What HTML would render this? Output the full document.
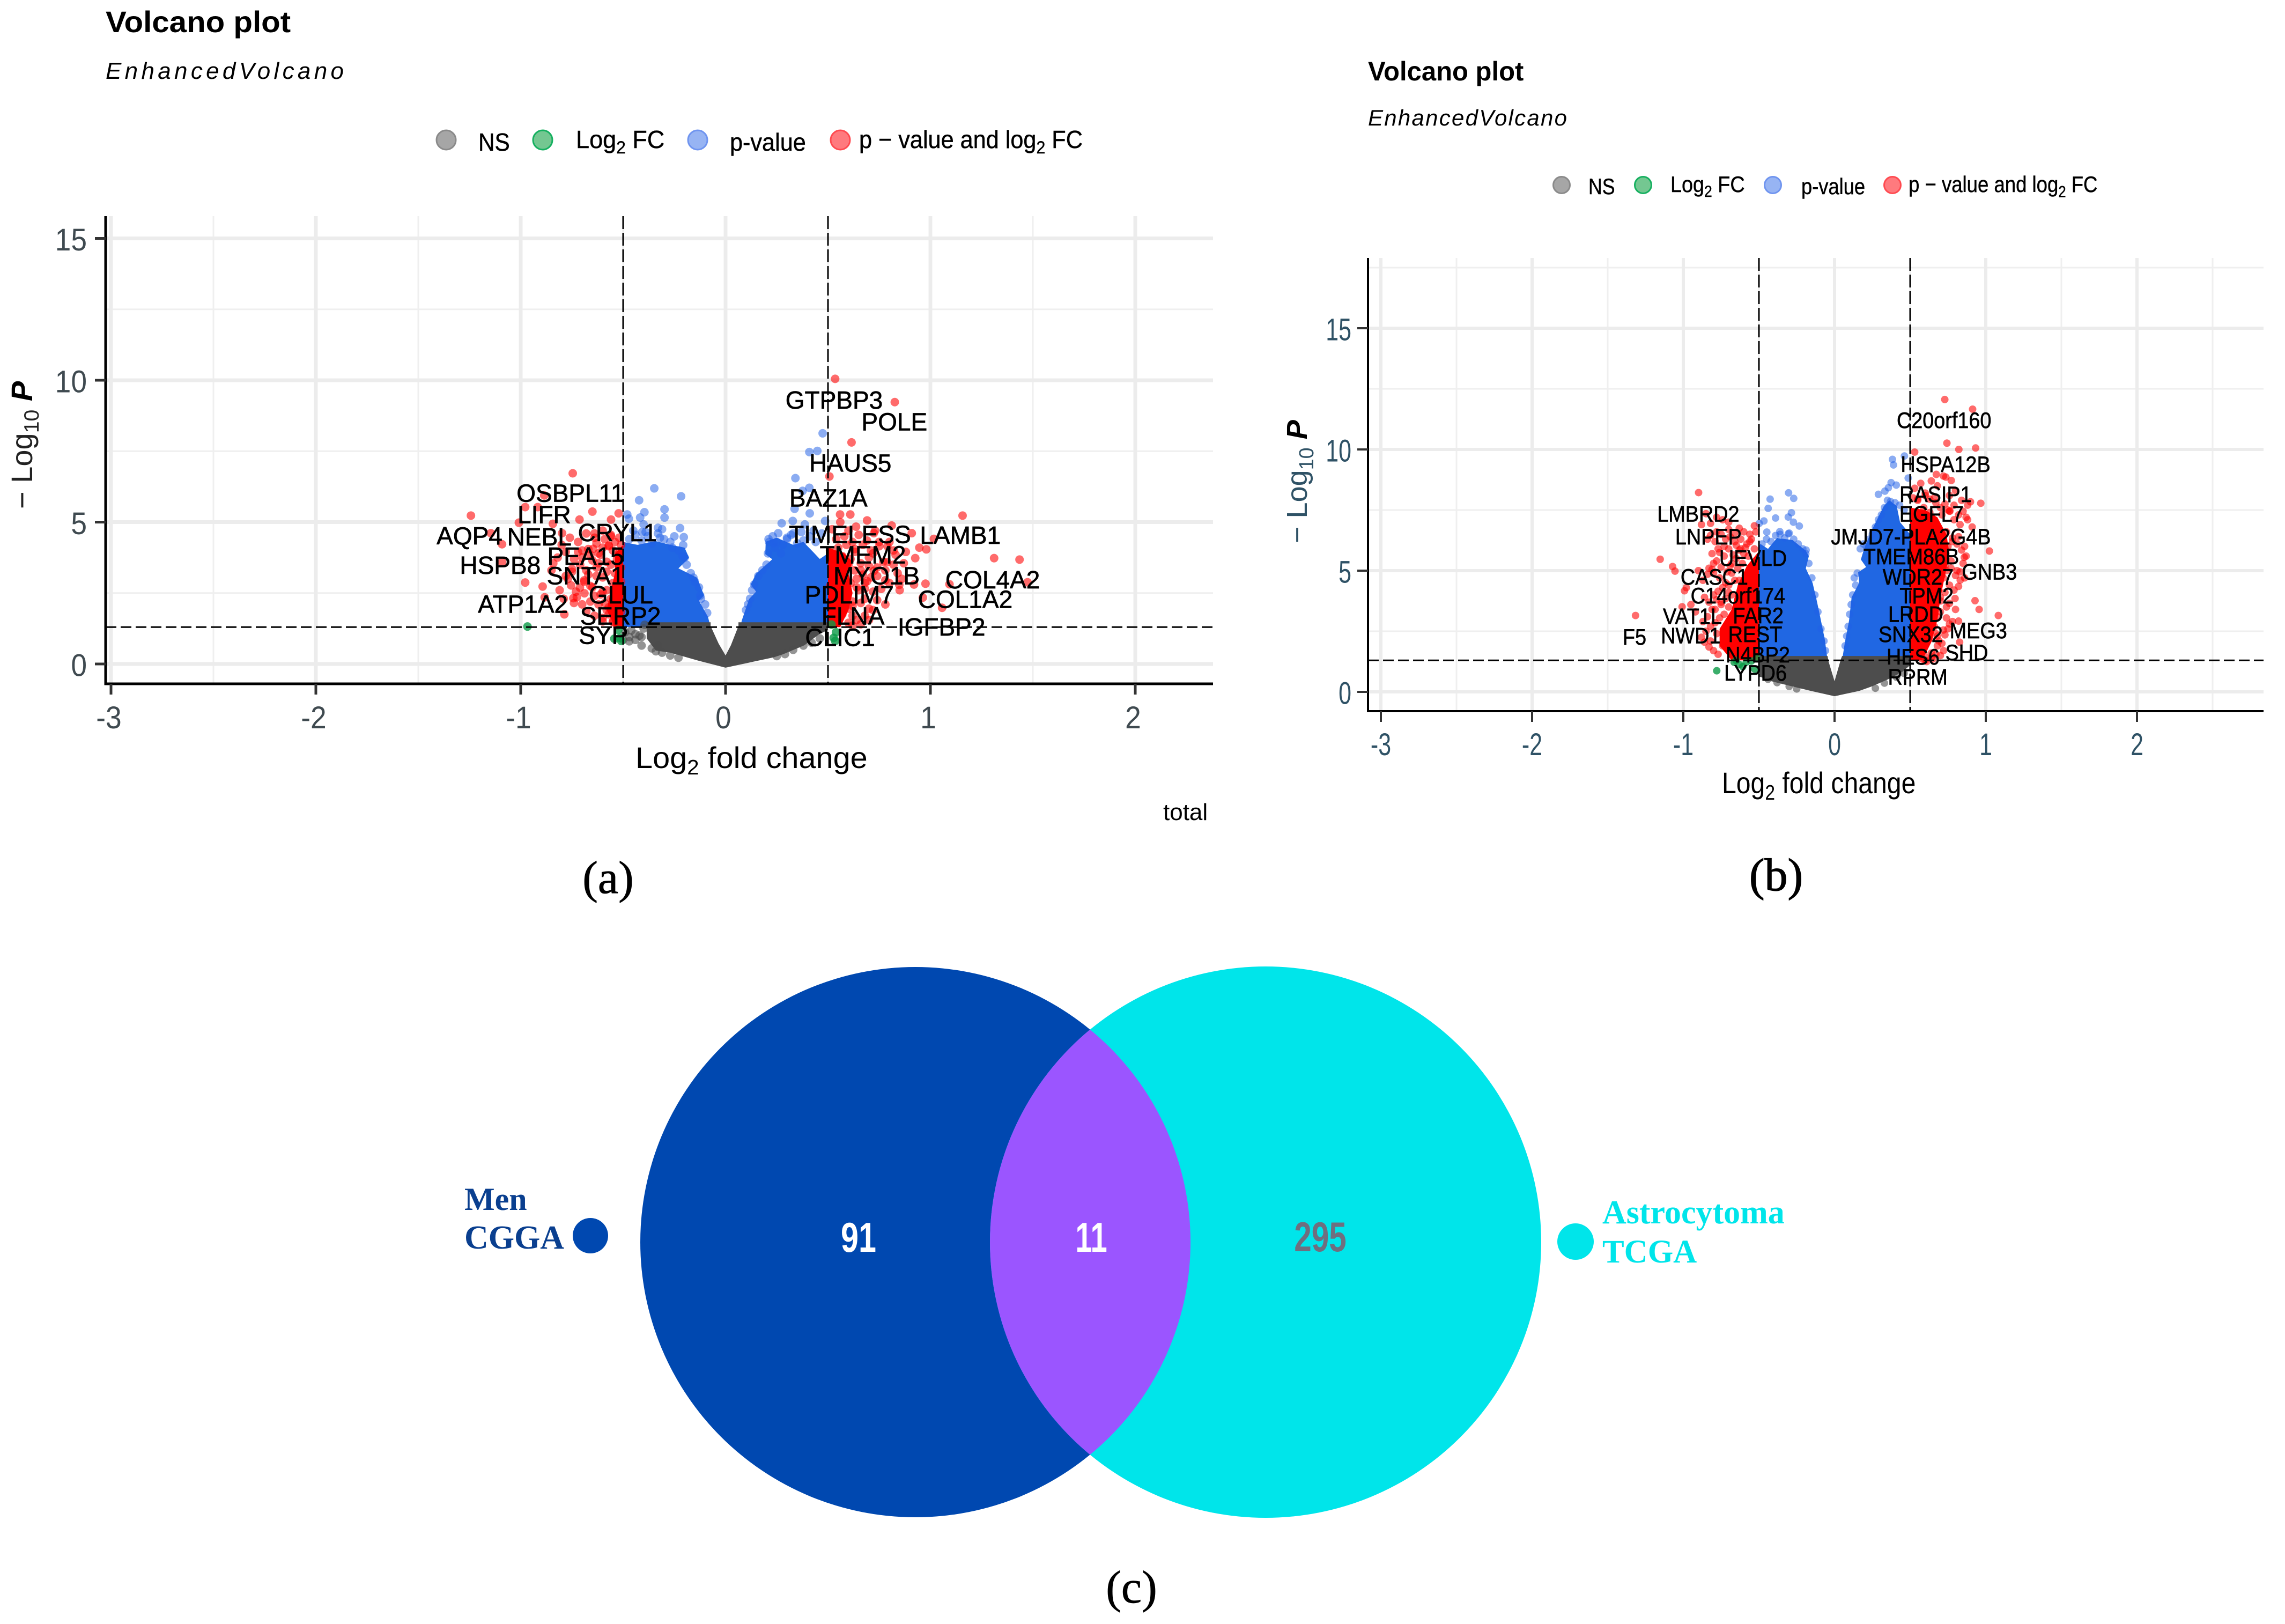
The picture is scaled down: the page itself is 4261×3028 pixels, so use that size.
<!DOCTYPE html>
<html lang="en"><head><meta charset="utf-8"><title>Volcano plots and Venn diagram</title>
<style>
html,body{margin:0;padding:0;background:#fff}
svg{display:block}
text{font-family:"Liberation Sans",sans-serif}
.serif{font-family:"Liberation Serif",serif}
</style></head>
<body>
<svg id="fig" xmlns="http://www.w3.org/2000/svg" width="4261" height="3028" viewBox="0 0 4261 3028">
<rect width="4261" height="3028" fill="#fff"/>
<g id="panel-a"></g>
<g id="panel-b"></g>
<text class="serif" x="1134" y="1665" font-size="86" text-anchor="middle" fill="#000" stroke="#000" stroke-width=".8">(a)</text>
<text class="serif" x="3312" y="1660" font-size="86" text-anchor="middle" fill="#000" stroke="#000" stroke-width="1.2">(b)</text>
<g id="venn">
<clipPath id="left-clip"><circle cx="1707" cy="2316" r="513"/></clipPath>
<circle cx="1707" cy="2316" r="513" fill="#0048b0"/>
<circle cx="2360" cy="2316" r="514" fill="#00e5ea"/>
<circle cx="2360" cy="2316" r="514" fill="#9b55ff" clip-path="url(#left-clip)"/>
<text transform="translate(1601,2334) scale(.76,1)" font-size="78" font-weight="bold" text-anchor="middle" fill="#fff">91</text>
<text transform="translate(2035,2334) scale(.72,1)" font-size="78" font-weight="bold" text-anchor="middle" fill="#fff">11</text>
<text transform="translate(2462,2333) scale(.75,1)" font-size="78" font-weight="bold" text-anchor="middle" fill="#6f6f7f">295</text>
<text class="serif" x="866" y="2256" font-size="60" font-weight="bold" fill="#0a3f8f">Men</text>
<text class="serif" x="866" y="2328" font-size="62" font-weight="bold" fill="#0a3f8f">CGGA</text>
<circle cx="1101" cy="2304" r="33" fill="#0048b0"/>
<circle cx="2938" cy="2315" r="34" fill="#00e5ea"/>
<text class="serif" x="2988" y="2281" font-size="62" font-weight="bold" fill="#00e5ea">Astrocytoma</text>
<text class="serif" x="2988" y="2354" font-size="61" font-weight="bold" fill="#00e5ea">TCGA</text>
</g>
<text class="serif" x="2110" y="2988" font-size="86" text-anchor="middle" fill="#000" stroke="#000" stroke-width=".8">(c)</text>
</svg>
<script>
/* ---------- panel (a) data, log2 fold change / -log10 p ---------- */
const aNsAreaX=[-0.385,-0.34,-0.27,-0.13,0,0.235,0.28,0.385,0.455,0.5,0.5,0.063,0.063,0.026,0,-0.034,-0.073,-0.073,-0.385];
const aNsAreaY=[0.9,0.47,0.4,0.11,-0.13,0.235,0.34,0.66,1.04,1.2,1.47,1.47,1.34,0.66,0.3,0.72,1.34,1.47,1.47];
const aNsX=[-0.47,-0.44,-0.41,-0.42,-0.36,-0.34,-0.33,-0.31,-0.27,-0.23,0.25,0.29,0.33,0.38,0.42,0.46,-0.49,-0.46,-0.44,-0.41,-0.5,-0.47,-0.4,-0.395];
const aNsY=[0.95,0.85,0.65,1.0,0.55,0.45,0.65,0.4,0.3,0.22,0.28,0.35,0.5,0.65,0.75,0.9,1.12,1.18,1.05,0.95,0.85,0.8,1.25,1.38];
const aBlueLeftAreaX=[-0.5,-0.073,-0.086,-0.13,-0.105,-0.139,-0.23,-0.178,-0.2,-0.27,-0.34,-0.43,-0.5];
const aBlueLeftAreaY=[1.3,1.3,1.66,2.23,2.42,3.04,3.37,3.74,4.1,4.2,4.33,4.2,4.3];
const aBlueRightAreaX=[0.5,0.073,0.079,0.115,0.149,0.123,0.149,0.228,0.194,0.196,0.25,0.33,0.38,0.43,0.46,0.5];
const aBlueRightAreaY=[1.3,1.3,1.53,2.29,2.55,2.8,3.18,3.69,3.87,4.31,4.45,4.2,4.3,3.93,3.7,3.9];
const aBlueX=[0.474,0.448,0.409,0.341,0.409,0.376,0.337,0.411,0.274,0.328,0.387,0.257,0.3,0.235,0.213,0.207,0.486,-0.348,-0.217,-0.422,-0.396,-0.298,-0.298,-0.48,-0.472,-0.417,-0.4,-0.222,-0.33,-0.407,-0.204,-0.32,-0.207,-0.2,-0.157,-0.124,0.21,0.23,0.25,0.28,0.3,0.32,0.35,0.38,0.41,0.44,0.47,0.24,0.27,0.33,0.37,0.43,0.2,0.18,0.16,0.14,0.13,0.12,0.11,0.1,-0.47,-0.44,-0.41,-0.38,-0.36,-0.33,-0.3,-0.27,-0.25,-0.23,-0.21,-0.19,-0.17,-0.15,-0.13,-0.12,-0.1,-0.09,-0.45,-0.39,-0.31,-0.26];
const aBlueY=[8.13,7.51,7.47,6.55,6.21,6.1,5.47,5.31,4.96,5.04,4.92,4.61,4.45,4.26,4.3,3.9,5.04,6.19,5.91,5.77,5.35,5.45,5.16,5.27,5.12,5.16,4.92,4.79,4.8,4.65,4.47,4.45,4.19,3.75,3.04,2.41,4.4,4.5,4.3,4.2,4.4,4.55,4.25,4.35,4.5,4.3,4.6,4.1,3.9,4.6,4.65,4.7,3.5,3.3,3.1,2.8,2.6,2.3,2.1,1.9,4.4,4.55,4.35,4.5,4.25,4.6,4.4,4.3,4.5,4.0,3.8,3.5,3.2,2.9,2.7,2.3,2.1,1.8,4.7,4.65,4.75,4.1];
const aRedLeftAreaX=[-0.5,-0.54,-0.58,-0.56,-0.54,-0.54,-0.5];
const aRedLeftAreaY=[1.3,1.3,1.9,2.6,3.2,3.9,4.2];
const aRedRightAreaX=[0.5,0.56,0.6,0.62,0.6,0.62,0.58,0.5];
const aRedRightAreaY=[1.3,1.3,1.9,2.5,3.2,3.6,3.9,4.1];
const aRedX=[0.535,0.826,0.615,0.507,-0.746,-0.885,-0.978,-0.917,-1.243,-1.009,-0.843,-0.65,-0.713,-0.522,-0.559,-0.798,-1.091,-1.146,-0.978,-0.893,-0.883,-0.787,-0.743,-0.726,-0.689,-0.754,-0.711,-0.841,-1.091,-0.646,-0.57,0.559,0.609,1.157,0.691,0.637,0.811,0.909,1.017,0.946,0.98,0.926,1.311,1.435,1.474,0.976,0.92,0.848,1.093,1.057,0.963,0.691,0.724,0.789,0.724,-0.52,-0.53,-0.55,-0.51,-0.54,-0.57,-0.6,-0.52,-0.56,-0.59,-0.51,-0.53,-0.62,-0.55,-0.58,-0.64,-0.52,-0.54,-0.6,-0.66,-0.51,-0.56,-0.63,-0.53,-0.58,-0.68,-0.52,-0.55,-0.61,-0.65,-0.7,-0.51,-0.54,-0.57,-0.6,-0.63,-0.67,-0.52,-0.56,-0.59,-0.72,-0.62,-0.53,-0.55,-0.58,-0.75,-0.69,-0.51,-0.64,-0.78,0.52,0.54,0.57,0.6,0.53,0.56,0.59,0.62,0.65,0.51,0.55,0.58,0.61,0.64,0.68,0.52,0.56,0.6,0.63,0.67,0.71,0.53,0.57,0.61,0.66,0.7,0.74,0.51,0.55,0.59,0.63,0.72,0.77,0.54,0.58,0.62,0.69,0.75,0.52,0.6,0.65,0.8,0.56,0.73,0.84,0.78,0.68,0.82,0.87,0.62,-0.56,-0.6,-0.64,-0.68,-0.72,-0.76,-0.8,-0.62,-0.66,-0.7,-0.74,-0.78,-0.82,-0.58,-0.63,-0.67,-0.71,-0.75,-0.6,-0.65,-0.69,-0.73,-0.77,-0.81,-0.85,-0.57,-0.61,-0.66,-0.7,-0.74,-0.79,-0.6,-0.64,-0.68,0.63,0.67,0.71,0.75,0.79,0.83,0.88,0.66,0.7,0.74,0.78,0.82,0.86,0.64,0.68,0.72,0.76,0.8,0.85,0.62,0.66,0.7,0.74,0.78,0.6,0.64,0.68,0.72,0.62,0.66,0.7];
const aRedY=[10.05,9.23,7.81,6.61,6.72,5.94,5.53,5.53,5.23,4.98,4.94,5.37,5.09,5.31,5.09,4.61,4.22,4.61,2.87,2.73,2.35,1.75,2.32,2.35,2.49,2.77,2.69,3.55,3.59,4.06,4.18,5.27,5.27,5.23,5.06,4.84,4.88,4.61,4.41,4.1,4.04,3.73,3.73,3.68,2.88,2.83,2.8,2.79,2.81,1.98,2.34,2.92,3.28,3.59,4.61,1.42,1.6,1.5,1.85,1.95,1.75,1.62,2.2,2.3,2.15,2.5,2.7,2.1,2.85,2.6,2.4,3.0,3.2,3.05,2.75,3.4,3.5,3.1,3.7,3.6,3.3,3.9,4.0,3.85,3.65,3.75,4.2,4.3,4.15,4.1,4.25,4.05,4.45,4.5,4.4,3.95,3.55,1.35,1.48,1.9,3.35,2.95,2.9,4.6,3.1,1.4,1.6,1.75,1.95,2.1,2.25,2.4,2.2,2.6,2.75,2.9,3.05,2.85,3.0,2.65,3.2,3.35,3.5,3.3,3.15,3.05,3.65,3.8,3.7,3.55,3.75,3.4,4.0,4.1,4.2,4.05,3.9,3.6,4.4,4.5,4.3,4.35,4.15,4.75,4.7,4.55,4.3,5.0,4.7,3.2,2.95,2.3,4.0,3.55,1.7,4.55,4.7,4.45,4.6,4.3,4.45,4.2,3.9,3.85,4.0,3.7,3.95,3.75,3.25,3.4,3.15,3.5,3.25,2.55,2.7,2.9,2.55,3.0,2.6,3.3,2.0,2.45,2.2,2.1,2.15,2.3,1.5,1.7,1.85,3.95,4.2,4.0,4.3,4.15,3.85,3.95,3.3,3.45,3.1,3.3,3.5,3.0,2.7,2.85,2.55,2.65,2.85,2.6,2.05,2.15,1.95,2.25,2.1,1.45,1.55,1.7,1.9,1.35,1.4,1.55];
const aGreenX=[-0.967,-0.515,-0.543,-0.509,-0.524,0.517,0.539,0.528,0.535];
const aGreenY=[1.32,0.92,0.89,0.81,1.2,1.39,1.12,0.92,0.81];
const aGeneNames=["GTPBP3","POLE","HAUS5","OSBPL11","BAZ1A","LIFR","CRYL1","TIMELESS","LAMB1","AQP4","NEBL","PEA15","TMEM2","HSPB8","SNTA1","MYO1B","COL4A2","GLUL","PDLIM7","ATP1A2","COL1A2","SERP2","FLNA","IGFBP2","SYP","CLIC1"];
const aGeneX=[0.53,0.824,0.609,-0.757,0.502,-0.885,-0.528,0.607,1.146,-1.25,-0.909,-0.683,0.67,-1.1,-0.683,0.737,1.304,-0.511,0.604,-0.989,1.17,-0.513,0.622,1.054,-0.596,0.559];
const aGeneY=[9.0,8.23,6.78,5.72,5.55,4.96,4.33,4.26,4.23,4.22,4.18,3.5,3.54,3.18,2.81,2.81,2.67,2.14,2.14,1.81,1.98,1.39,1.39,1.0,0.71,0.63];

/* ---------- panel (b) data ---------- */
const bNsAreaX=[-0.5,-0.49,-0.418,-0.31,-0.156,0,0.163,0.245,0.351,0.447,0.5,0.5,0.05,0.043,0,-0.04,-0.046,-0.5];
const bNsAreaY=[0.6,0.62,0.44,0.27,0.04,-0.18,0.04,0.22,0.51,0.82,1.1,1.48,1.48,1.37,0.44,1.26,1.48,1.48];
const bNsX=[-0.44,-0.38,-0.3,-0.25,0.27,0.33,0.41,0.46];
const bNsY=[0.52,0.38,0.22,0.12,0.15,0.36,0.6,0.76];
const bBlueLeftAreaX=[-0.5,-0.046,-0.064,-0.1,-0.12,-0.145,-0.19,-0.17,-0.19,-0.277,-0.38,-0.44,-0.49,-0.5];
const bBlueLeftAreaY=[1.3,1.3,2.15,3.25,3.83,4.49,5.09,5.6,5.82,6.26,6.35,5.9,6.1,6.0];
const bBlueRightAreaX=[0.5,0.05,0.067,0.096,0.113,0.163,0.156,0.209,0.174,0.199,0.255,0.326,0.362,0.411,0.433,0.5];
const bBlueRightAreaY=[1.3,1.3,1.99,2.94,3.9,4.5,4.93,5.15,5.46,5.97,6.78,7.67,7.9,7.67,7.0,6.5];
const bBlueX=[0.383,0.39,0.462,0.487,0.374,0.408,0.356,0.333,0.29,-0.304,-0.27,-0.426,-0.439,-0.39,-0.285,-0.306,-0.272,-0.467,-0.498,-0.233,-0.448,-0.362,-0.306,-0.188,0.17,0.19,0.21,0.23,0.25,0.27,0.29,0.31,0.33,0.35,0.37,0.4,0.43,0.46,0.15,0.14,0.13,0.12,0.11,0.1,0.09,0.08,0.07,-0.48,-0.45,-0.42,-0.39,-0.36,-0.33,-0.3,-0.27,-0.24,-0.21,-0.19,-0.17,-0.15,-0.13,-0.11,-0.09,-0.07,-0.06];
const bBlueY=[9.59,9.36,9.73,8.82,8.63,8.53,8.42,8.28,8.15,8.21,7.98,7.95,7.57,7.17,7.39,7.21,7.0,7.05,6.95,6.84,6.59,6.61,6.52,5.85,5.9,6.1,6.0,6.3,6.5,6.8,7.1,7.3,7.6,7.9,7.85,7.8,7.7,7.5,4.9,4.4,4.7,4.0,3.6,3.2,2.7,2.3,1.9,6.1,6.3,6.2,6.45,6.5,6.35,6.55,6.3,6.1,5.9,5.7,5.3,4.7,4.0,3.3,2.6,2.1,1.7];
const bRedLeftAreaX=[-0.5,-0.68,-0.76,-0.76,-0.68,-0.64,-0.58,-0.5];
const bRedLeftAreaY=[1.3,1.3,1.9,2.6,3.4,4.4,5.2,5.8];
const bRedRightAreaX=[0.5,0.58,0.64,0.68,0.7,0.76,0.74,0.68,0.6,0.5];
const bRedRightAreaY=[1.3,1.3,2.05,2.96,3.88,5.7,6.5,7.2,7.5,7.6];
const bRedX=[0.729,0.913,0.743,0.822,0.933,0.53,0.673,0.736,0.772,0.899,0.967,0.763,1.024,0.858,0.831,0.929,0.956,1.083,0.8,0.797,0.82,0.827,-0.899,-1.153,-1.071,-1.055,-0.992,-1.008,-1.316,-0.52,-0.55,-0.58,-0.62,-0.66,-0.7,-0.74,-0.78,-0.82,-0.85,-0.88,-0.53,-0.57,-0.61,-0.65,-0.69,-0.73,-0.77,-0.81,-0.84,-0.54,-0.59,-0.63,-0.68,-0.72,-0.76,-0.8,-0.83,-0.87,-0.9,-0.56,-0.6,-0.64,-0.7,-0.75,-0.79,-0.86,-0.92,-0.95,-0.98,-0.55,-0.62,-0.67,-0.71,-0.78,-0.82,-0.53,-0.58,-0.66,-0.74,0.53,0.57,0.6,0.64,0.68,0.72,0.76,0.8,0.84,0.88,0.55,0.59,0.63,0.67,0.71,0.75,0.79,0.83,0.87,0.91,0.54,0.58,0.62,0.66,0.7,0.74,0.78,0.82,0.86,0.56,0.61,0.65,0.69,0.73,0.77,0.81,0.85,0.52,0.6,0.64,0.72,0.76,0.7,0.74,0.66,0.68,0.62,0.78,0.59,0.63,0.67,0.71,0.56,0.75,0.64,0.68,0.6,0.72,0.58,0.7,-0.7,-0.73,-0.76,-0.79,-0.82,-0.85,-0.88,-0.68,-0.72,-0.75,-0.78,-0.81,-0.84,-0.87,-0.66,-0.7,-0.74,-0.77,-0.8,-0.83,-0.64,-0.68,-0.71,-0.75,-0.78,-0.81,-0.6,-0.63,-0.67,-0.7,-0.73,-0.76,-0.79,-0.56,-0.59,-0.62,-0.65,-0.69,-0.72,-0.75,-0.53,-0.56,-0.6,-0.63,-0.66,-0.7,-0.78,-0.82,-0.8,-0.84,-0.86,-0.83,-0.8,-0.77,0.52,0.55,0.6,0.63,0.66,0.7,0.73,0.76,0.79,0.82,0.85,0.88,0.54,0.58,0.62,0.65,0.69,0.72,0.75,0.78,0.81,0.84,0.87,0.56,0.6,0.64,0.67,0.71,0.74,0.77,0.8,0.83,0.86,0.58,0.62,0.66,0.7,0.73,0.76,0.79,0.82,0.66,0.7,0.74,0.72,0.68,0.64,0.76,0.61,0.65,0.69,0.73,0.6,0.67];
const bRedY=[12.06,11.66,10.26,10.0,10.06,9.89,8.97,8.86,8.72,7.84,7.78,7.46,5.81,5.55,4.61,3.76,3.4,3.15,3.4,3.85,2.92,2.05,8.22,5.47,5.17,4.98,4.17,3.51,3.15,6.6,6.3,6.1,5.9,6.2,6.7,7.1,7.2,6.95,7.35,6.9,5.9,5.6,5.3,5.5,5.2,5.6,5.9,5.7,6.3,5.0,4.8,4.6,4.9,4.5,4.7,4.9,5.1,4.6,5.0,4.2,4.0,3.8,4.1,3.7,3.4,3.9,3.3,3.6,4.3,2.6,2.9,3.0,2.7,2.4,2.1,1.5,1.6,1.7,1.9,8.4,8.6,8.2,8.7,8.5,8.9,8.1,8.3,7.9,7.7,7.9,7.6,7.4,7.8,7.3,7.5,7.1,6.9,7.2,6.8,6.9,6.7,6.5,6.8,6.3,6.6,6.2,6.4,6.0,5.9,5.7,5.5,5.8,5.2,5.4,5.0,5.3,4.8,4.6,4.3,4.7,4.4,3.9,3.5,3.3,3.1,2.8,2.9,2.5,2.2,2.4,2.0,1.8,2.6,1.6,1.9,1.45,1.7,1.35,1.5,3.5,3.2,3.05,2.85,2.7,2.5,2.25,4.0,3.85,3.6,3.8,3.4,3.1,2.9,4.6,4.4,4.3,4.15,4.0,3.7,5.1,5.3,4.95,5.15,5.4,5.05,5.7,5.85,5.65,5.9,6.0,5.75,6.2,6.2,5.95,6.3,6.05,6.4,6.3,6.5,6.85,6.5,6.6,6.75,6.55,7.0,6.6,6.45,5.3,4.85,2.05,1.85,1.7,1.55,8.0,7.95,8.1,7.95,8.0,7.6,7.75,7.45,7.7,7.3,7.45,7.1,6.2,6.4,6.2,6.5,6.1,6.3,6.0,6.35,6.1,5.85,5.6,5.1,4.9,5.05,5.2,4.8,5.0,5.1,4.8,4.95,4.7,3.7,3.85,3.6,3.75,4.1,3.65,4.2,4.35,2.7,3.3,3.05,2.55,2.3,1.4,2.8,1.25,1.35,2.1,2.35,1.3,1.55];
const bGreenX=[-0.779,-0.664,-0.63,-0.584,-0.528,-0.516,-0.55,-0.607,-0.65];
const bGreenY=[0.87,1.22,1.13,1.22,0.94,1.4,1.27,1.04,1.3];
const bGeneNames=["C20orf160","HSPA12B","RASIP1","LMBRD2","EGFL7","LNPEP","JMJD7-PLA2G4B","TMEM86B","UEVLD","GNB3","WDR27","CASC1","C14orf174","TPM2","LRDD","VAT1L","FAR2","MEG3","SNX32","REST","NWD1","F5","N4BP2","HES6","SHD","LYPD6","RPRM"];
const bGeneX=[0.724,0.734,0.668,-0.901,0.641,-0.834,0.505,0.507,-0.539,1.024,0.553,-0.795,-0.639,0.609,0.537,-0.94,-0.505,0.951,0.503,-0.525,-0.951,-1.323,-0.507,0.519,0.874,-0.523,0.55];
const bGeneY=[10.88,9.07,7.83,7.02,7.02,6.08,6.08,5.26,5.2,4.63,4.43,4.43,3.65,3.65,2.89,2.8,2.83,2.21,2.06,2.06,2.0,1.95,1.22,1.13,1.31,0.47,0.3];

/* ---------- shared axis ticks ---------- */
const xTicks=[-3,-2,-1,0,1,2];
const xTickLabels=["-3","-2","-1","0","1","2"];
const xMinorTicks=[-2.5,-1.5,-0.5,0.5,1.5,2.5];
const yTicks=[0,5,10,15];
const yTickLabels=["0","5","10","15"];
const yMinorTicksA=[2.5,7.5,12.5];
const yMinorTicksB=[2.5,7.5,12.5,17.5];
const fcCutoffs=[-0.5,0.5];
const pCutoff=[1.3];

const NS='http://www.w3.org/2000/svg';
function mk(tag,attrs,parent){
  const e=document.createElementNS(NS,tag);
  for(const k in attrs){e.setAttribute(k,attrs[k]);}
  parent.appendChild(e);
  return e;
}
function tspan(parent,str,attrs){
  const t=mk('tspan',attrs||{},parent);
  t.textContent=str;
  return t;
}

function drawVolcano(root,g,d){
  const sx=v=>g.x0+v*g.kx;
  const sy=v=>g.y0-v*g.ky;
  const poly=(xs,ys)=>xs.map((x,i)=>sx(x)+','+sy(ys[i])).join(' ');

  const title=mk('text',{transform:`translate(${g.left},${g.titleY}) scale(${g.titleSx},1)`,'font-size':g.titleSize,'font-weight':'bold',fill:'#000'},root);
  title.textContent='Volcano plot';
  
  
  const sub=mk('text',{x:g.left,y:g.subY,'font-size':g.subSize,'font-style':'italic',textLength:g.subLen,lengthAdjust:'spacing',fill:'#000'},root);
  sub.textContent='EnhancedVolcano';
  
  

  /* legend */
  const lc=[['#a6a6a6','#8a8a8a','legend-dot-ns'],['#74c791','#16b060','legend-dot-log2fc'],['#97b4f3','#6f94ef','legend-dot-pvalue'],['#ff7a7e','#ff4a50','legend-dot-both']];
  lc.forEach((c,i)=>{
    const dot=mk('circle',{cx:g.legDots[i],cy:g.legY,r:g.legR,fill:c[0],stroke:c[1],'stroke-width':3},root);
    
    
  });
  const legText=(i,parts,name)=>{
    const t=mk('text',{transform:`translate(${g.legText[i]},${g.legBase[i]}) scale(${g.legSx[i]},1)`,'font-size':g.legSize,fill:'#000',stroke:'#000','stroke-width':.5},root);
    
    
    parts.forEach(p=>{
      if(p[1]){
        tspan(t,p[0],{dy:g.legSize*0.22,'font-size':g.legSize*0.7});
      }else{
        tspan(t,p[0],{dy:p[2]?-g.legSize*0.22:0});
      }
    });
  };
  legText(0,[['NS']],'legend-label-ns');
  legText(1,[['Log'],['2',1],[' FC',0,1]],'legend-label-log2fc');
  legText(2,[['p-value']],'legend-label-pvalue');
  legText(3,[['p \u2212 value and log'],['2',1],[' FC',0,1]],'legend-label-both');

  /* grid */
  const gridG=mk('g',{},root);
  
  
  d.xMinor.forEach(v=>{
    if(sx(v)<g.right) mk('line',{x1:sx(v),x2:sx(v),y1:g.top,y2:g.bottom,stroke:'#efefef','stroke-width':g.minorW},gridG);
  });
  d.yMinor.forEach(v=>{
    mk('line',{x1:g.left,x2:g.right,y1:sy(v),y2:sy(v),stroke:'#efefef','stroke-width':g.minorW},gridG);
  });
  xTicks.forEach(v=>{
    mk('line',{x1:sx(v),x2:sx(v),y1:g.top,y2:g.bottom,stroke:'#ececec','stroke-width':g.majorW},gridG);
  });
  yTicks.forEach(v=>{
    mk('line',{x1:g.left,x2:g.right,y1:sy(v),y2:sy(v),stroke:'#ececec','stroke-width':g.majorW},gridG);
  });

  /* dense clouds */
  const a1=mk('polygon',{points:poly(d.blueLX,d.blueLY),fill:'#2067e3'},root);
  
  
  const a2=mk('polygon',{points:poly(d.blueRX,d.blueRY),fill:'#2067e3'},root);
  
  
  const a3=mk('polygon',{points:poly(d.redLX,d.redLY),fill:'#ff0000'},root);
  
  
  const a4=mk('polygon',{points:poly(d.redRX,d.redRY),fill:'#ff0000'},root);
  
  
  const a5=mk('polygon',{points:poly(d.nsX,d.nsY),fill:'#4d4d4d'},root);
  
  

  /* individual points */
  d.ptNsX.forEach((x,i)=>{
    const c=mk('circle',{cx:sx(x),cy:sy(d.ptNsY[i]),r:g.r,fill:'#4d4d4d','fill-opacity':.6},root);
    
    
  });
  d.ptBlueX.forEach((x,i)=>{
    const c=mk('circle',{cx:sx(x),cy:sy(d.ptBlueY[i]),r:g.r,fill:'#2060e6','fill-opacity':.52},root);
    
    
  });
  d.ptRedX.forEach((x,i)=>{
    const c=mk('circle',{cx:sx(x),cy:sy(d.ptRedY[i]),r:g.r,fill:'#ff0000','fill-opacity':.58},root);
    
    
  });
  d.ptGreenX.forEach((x,i)=>{
    const c=mk('circle',{cx:sx(x),cy:sy(d.ptGreenY[i]),r:g.r,fill:'#0a9a46','fill-opacity':.8},root);
    
    
  });

  /* cutoffs */
  fcCutoffs.forEach(v=>{
    const l=mk('line',{x1:sx(v),x2:sx(v),y1:g.top,y2:g.bottom,stroke:'#000','stroke-width':3,'stroke-dasharray':'24 7'},root);
    
    
  });
  pCutoff.forEach(v=>{
    const l=mk('line',{x1:g.left,x2:g.right,y1:sy(v),y2:sy(v),stroke:'#000','stroke-width':3,'stroke-dasharray':'20 8'},root);
    
    
  });

  /* gene labels */
  d.names.forEach((n,i)=>{
    const t=mk('text',{transform:`translate(${sx(d.geneX[i])},${sy(d.geneY[i])}) scale(${g.geneSx},1)`,'font-size':g.geneSize,'text-anchor':'middle',fill:'#000',stroke:'#000','stroke-width':.7},root);
    t.textContent=n;
    
    
  });

  /* axes */
  const ax=mk('line',{x1:g.left,x2:g.right,y1:g.bottom,y2:g.bottom,stroke:'#000','stroke-width':g.axisW},root);
  
  
  const ay=mk('line',{x1:g.left,x2:g.left,y1:g.top,y2:g.bottom+g.axisW/2,stroke:'#000','stroke-width':g.axisW},root);
  
  
  xTicks.forEach((v,i)=>{
    const tk=mk('line',{x1:sx(v),x2:sx(v),y1:g.bottom,y2:g.bottom+20,stroke:'#333','stroke-width':g.tickW},root);
    
    
    const tl=mk('text',{transform:`translate(${sx(v)+g.xLabelShift},${g.xLabelY}) scale(${g.tickSx},1)`,'font-size':g.tickSize,'text-anchor':'middle',fill:g.tickColor},root);
    tl.textContent=xTickLabels[i];
    
    
  });
  yTicks.forEach((v,i)=>{
    const tk=mk('line',{x1:g.left-20,x2:g.left,y1:sy(v),y2:sy(v),stroke:'#333','stroke-width':g.tickW},root);
    
    
    const tl=mk('text',{transform:`translate(${g.yLabelX},${sy(v)+g.tickSize*0.39}) scale(${g.tickSx},1)`,'font-size':g.tickSize,'text-anchor':'end',fill:g.tickColor},root);
    tl.textContent=yTickLabels[i];
    
    
  });

  /* axis titles */
  const xt=mk('text',{transform:`translate(${g.xTitleX},${g.xTitleY}) scale(${g.xTitleSx},1)`,'font-size':56,fill:'#000'},root);
  
  
  tspan(xt,'Log',{});
  tspan(xt,'2',{dy:12,'font-size':39});
  tspan(xt,' fold change',{dy:-12});
  const yt=mk('text',{transform:`translate(${g.yTitleX},${g.yTitleY}) rotate(-90)`,'font-size':g.yTitleSize,fill:g.yTitleColor},root);
  
  
  tspan(yt,'\u2212 Log',{});
  tspan(yt,'10',{dy:12,'font-size':g.yTitleSize*0.7});
  tspan(yt,' P',{dy:-12,'font-style':'italic','font-weight':'bold',fill:'#000'});
}

drawVolcano(document.getElementById('panel-a'),{
  x0:1353,kx:382,y0:1238,ky:52.9,left:197,right:2262,top:403,bottom:1275,r:8,
  titleY:60,titleSize:56,titleSx:1.04,subY:147,subSize:44,subLen:444,
  legDots:[832,1012,1301,1567],legY:261,legR:18,legSize:46,
  legText:[892,1074,1361,1602],legBase:[281,276,281,276],legSx:[.92,.98,.94,.94],
  minorW:3,majorW:7,axisW:5,tickW:5,
  geneSize:46,geneSx:1,tickSize:58,tickSx:.92,tickColor:'#3f4a50',xLabelShift:-4,
  xLabelY:1358,yLabelX:162,xTitleX:1185,xTitleY:1432,xTitleSx:1.03,
  yTitleX:60,yTitleY:949,yTitleSize:56,yTitleColor:'#222'
},{
  nsX:aNsAreaX,nsY:aNsAreaY,ptNsX:aNsX,ptNsY:aNsY,
  blueLX:aBlueLeftAreaX,blueLY:aBlueLeftAreaY,blueRX:aBlueRightAreaX,blueRY:aBlueRightAreaY,
  ptBlueX:aBlueX,ptBlueY:aBlueY,
  redLX:aRedLeftAreaX,redLY:aRedLeftAreaY,redRX:aRedRightAreaX,redRY:aRedRightAreaY,
  ptRedX:aRedX,ptRedY:aRedY,ptGreenX:aGreenX,ptGreenY:aGreenY,
  names:aGeneNames,geneX:aGeneX,geneY:aGeneY,xMinor:xMinorTicks,yMinor:yMinorTicksA
});

drawVolcano(document.getElementById('panel-b'),{
  x0:3421,kx:282,y0:1290,ky:45.2,left:2551,right:4221,top:481,bottom:1326,r:7,
  titleY:150,titleSize:50,titleSx:.98,subY:234,subSize:42,subLen:371,
  legDots:[2912,3064,3306,3529],legY:345,legR:15.5,legSize:42,
  legText:[2962,3115,3359,3559],legBase:[362,358,362,358],legSx:[.85,.9,.865,.87],
  minorW:3,majorW:6,axisW:4,tickW:4,
  geneSize:42,geneSx:.9,tickSize:58,tickSx:.74,tickColor:'#2f5266',xLabelShift:0,
  xLabelY:1408,yLabelX:2520,xTitleX:3211,xTitleY:1479,xTitleSx:.86,
  yTitleX:2437,yTitleY:1013,yTitleSize:54,yTitleColor:'#2f5266'
},{
  nsX:bNsAreaX,nsY:bNsAreaY,ptNsX:bNsX,ptNsY:bNsY,
  blueLX:bBlueLeftAreaX,blueLY:bBlueLeftAreaY,blueRX:bBlueRightAreaX,blueRY:bBlueRightAreaY,
  ptBlueX:bBlueX,ptBlueY:bBlueY,
  redLX:bRedLeftAreaX,redLY:bRedLeftAreaY,redRX:bRedRightAreaX,redRY:bRedRightAreaY,
  ptRedX:bRedX,ptRedY:bRedY,ptGreenX:bGreenX,ptGreenY:bGreenY,
  names:bGeneNames,geneX:bGeneX,geneY:bGeneY,xMinor:xMinorTicks,yMinor:yMinorTicksB
});

const totalLabel=mk('text',{x:2169,y:1529,'font-size':44,fill:'#000'},document.getElementById('panel-a'));
totalLabel.textContent='total';


</script>
</body></html>
